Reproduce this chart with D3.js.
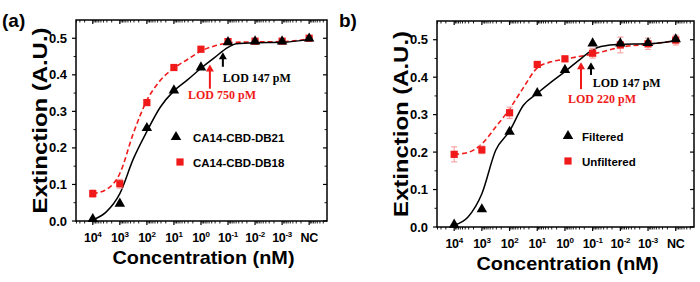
<!DOCTYPE html>
<html>
<head>
<meta charset="utf-8">
<script src="https://cdn.jsdelivr.net/npm/d3@7"></script>
<style>
  html, body { margin: 0; padding: 0; background: #fff; }
  svg { display: block; font-family: "Liberation Sans", Arial, sans-serif; }
</style>
</head>
<body>
<svg id="chart" width="700" height="282"></svg>
<script>
// ── Data ──────────────────────────────────────────────────────────────
const categories = ["4", "3", "2", "1", "0", "-1", "-2", "-3", "NC"];

// panel (a)
const aBlack = [0.004, 0.046, 0.253, 0.356, 0.419, 0.488, 0.490, 0.490, 0.498];
const aRed   = [0.075, 0.102, 0.324, 0.420, 0.470, 0.491, 0.492, 0.492, 0.500];
const aRedErr = [0.010, 0.012, 0.006, 0.005, 0.005, 0.005, 0.005, 0.005, 0.005];
// fitted curves, at half-category steps
const fitX     = [0, 0.5, 1, 1.5, 2, 2.5, 3, 3.5, 4, 4.5, 5, 5.3, 6, 7, 8];
const aBlackFit = [0.003, 0.025, 0.075, 0.170, 0.245, 0.312, 0.356, 0.386, 0.418, 0.447, 0.475, 0.485, 0.488, 0.489, 0.497];
const aRedFit   = [0.075, 0.086, 0.130, 0.240, 0.330, 0.385, 0.418, 0.442, 0.465, 0.479, 0.487, 0.489, 0.490, 0.491, 0.498];

// panel (b)
const bBlack = [0.005, 0.046, 0.253, 0.356, 0.418, 0.489, 0.489, 0.490, 0.500];
const bRed   = [0.194, 0.206, 0.305, 0.434, 0.449, 0.464, 0.486, 0.489, 0.499];
const bRedErr = [0.020, 0.010, 0.015, 0.007, 0.007, 0.013, 0.021, 0.015, 0.013];
const bBlackFit = [0.005, 0.027, 0.089, 0.205, 0.256, 0.325, 0.357, 0.387, 0.415, 0.445, 0.473, 0.482, 0.488, 0.489, 0.498];
const bRedFit   = [0.194, 0.199, 0.222, 0.267, 0.315, 0.372, 0.425, 0.441, 0.448, 0.455, 0.462, 0.467, 0.480, 0.488, 0.497];

const yTicks = [0.0, 0.1, 0.2, 0.3, 0.4, 0.5];

const RED = "#f01a1a", PINK = "#f7a5a5";
const SERIF = "'Liberation Serif', 'Times New Roman', serif";
const svg = d3.select("#chart");

function drawPanel(o) {
  const x = d3.scaleLinear().domain([-0.62, 8.66]).range([o.left, o.right]);
  const y = d3.scaleLinear().domain([0, 0.55]).range([o.bottom, o.top]);
  const g = svg.append("g");

  // minor log ticks between decades
  const minors = [];
  for (let d = -1; d <= 9; d++)
    for (let k = 2; k <= 9; k++) {
      const v = d + (1 - Math.log10(k));
      if (v > -0.62 && v < 8.66) minors.push(v);
    }
  const majors = d3.range(0, 9);
  const yMinor = d3.range(0.05, 0.55, 0.1);

  // bottom (out) and top (in) ticks
  majors.forEach(v => {
    g.append("line").attr("x1", x(v)).attr("x2", x(v)).attr("y1", o.bottom).attr("y2", o.bottom + 4).attr("stroke", "#000").attr("stroke-width", 1.2);
    g.append("line").attr("x1", x(v)).attr("x2", x(v)).attr("y1", o.top).attr("y2", o.top + 4).attr("stroke", "#000").attr("stroke-width", 1.2);
  });
  minors.forEach(v => {
    g.append("line").attr("x1", x(v)).attr("x2", x(v)).attr("y1", o.bottom).attr("y2", o.bottom + 2.5).attr("stroke", "#000").attr("stroke-width", 0.9);
    g.append("line").attr("x1", x(v)).attr("x2", x(v)).attr("y1", o.top).attr("y2", o.top + 2.5).attr("stroke", "#000").attr("stroke-width", 0.9);
  });
  // left (out) and right (in) ticks
  yTicks.forEach(v => {
    g.append("line").attr("x1", o.left - 4).attr("x2", o.left).attr("y1", y(v)).attr("y2", y(v)).attr("stroke", "#000").attr("stroke-width", 1.2);
    g.append("line").attr("x1", o.right - 4).attr("x2", o.right).attr("y1", y(v)).attr("y2", y(v)).attr("stroke", "#000").attr("stroke-width", 1.2);
  });
  yMinor.forEach(v => {
    g.append("line").attr("x1", o.left - 2.5).attr("x2", o.left).attr("y1", y(v)).attr("y2", y(v)).attr("stroke", "#000").attr("stroke-width", 0.9);
    g.append("line").attr("x1", o.right - 2.5).attr("x2", o.right).attr("y1", y(v)).attr("y2", y(v)).attr("stroke", "#000").attr("stroke-width", 0.9);
  });

  g.append("rect").attr("x", o.left).attr("y", o.top)
    .attr("width", o.right - o.left).attr("height", o.bottom - o.top)
    .attr("fill", "none").attr("stroke", "#000").attr("stroke-width", 1.5);

  // y tick labels
  yTicks.forEach(v => {
    g.append("text").attr("x", o.left - 9).attr("y", y(v) + 4.5)
      .attr("text-anchor", "end").attr("font-size", 13).attr("font-weight", "bold")
      .text(d3.format(".1f")(v));
  });
  // x tick labels
  categories.forEach((c, i) => {
    const t = g.append("text").attr("x", x(i)).attr("y", o.bottom + 21)
      .attr("text-anchor", "middle").attr("font-size", 12.5).attr("font-weight", "bold")
      .attr("letter-spacing", -0.3);
    if (c === "NC") { t.text("NC"); return; }
    t.append("tspan").text("10");
    t.append("tspan").attr("font-size", 8).attr("dy", -5).text(c);
  });

  // axis titles
  g.append("text").attr("x", (o.left + o.right) / 2 + 2).attr("y", o.bottom + 43)
    .attr("text-anchor", "middle").attr("font-size", 19).attr("font-weight", "bold")
    .attr("textLength", 182).attr("lengthAdjust", "spacingAndGlyphs")
    .text("Concentration (nM)");
  g.append("text")
    .attr("transform", `translate(${o.left - 29},${(o.top + o.bottom) / 2}) rotate(-90)`)
    .attr("text-anchor", "middle").attr("font-size", 21).attr("font-weight", "bold")
    .attr("textLength", 186).attr("lengthAdjust", "spacingAndGlyphs")
    .text("Extinction (A.U.)");

  // fitted curves
  const line = d3.line().x((d, i) => x(fitX[i])).y(d => y(d)).curve(d3.curveMonotoneX);
  g.append("path").attr("d", line(o.redFit)).attr("fill", "none")
    .attr("stroke", RED).attr("stroke-width", 1.6).attr("stroke-dasharray", "5,3");
  g.append("path").attr("d", line(o.blackFit)).attr("fill", "none")
    .attr("stroke", "#000").attr("stroke-width", 1.5);

  // error bars (red series)
  o.red.forEach((v, i) => {
    const e = o.redErr[i], cx = x(i);
    g.append("line").attr("x1", cx).attr("x2", cx).attr("y1", y(v - e)).attr("y2", y(v + e)).attr("stroke", PINK).attr("stroke-width", 1.2);
    [v - e, v + e].forEach(w => g.append("line").attr("x1", cx - 3).attr("x2", cx + 3).attr("y1", y(w)).attr("y2", y(w)).attr("stroke", PINK).attr("stroke-width", 1.2));
  });

  // markers
  const sq = d3.symbol().type(d3.symbolSquare).size(52);
  const tri = d3.symbol().type(d3.symbolTriangle).size(48);
  g.selectAll(null).data(o.red).enter().append("path")
    .attr("d", sq).attr("fill", RED)
    .attr("transform", (d, i) => `translate(${x(i)},${y(d)})`);
  g.selectAll(null).data(o.black).enter().append("path")
    .attr("d", tri).attr("fill", "#000")
    .attr("transform", (d, i) => `translate(${x(i)},${y(d) - 0.5})`);

  // LOD arrows
  o.arrows.forEach(a => {
    const ax = x(a.x), y0 = y(a.from), y1 = y(a.to);
    g.append("line").attr("x1", ax).attr("x2", ax).attr("y1", y0).attr("y2", y1 + 5)
      .attr("stroke", a.color).attr("stroke-width", 2);
    g.append("path").attr("d", `M${ax},${y1} L${ax - 4},${y1 + 7} L${ax + 4},${y1 + 7} Z`).attr("fill", a.color);
  });
  o.lods.forEach(l => {
    g.append("text").attr("x", x(l.x)).attr("y", y(l.y))
      .style("font-family", SERIF)
      .attr("font-size", 12).attr("font-weight", "bold").attr("fill", l.color)
      .text(l.text);
  });

  // legend
  g.append("path").attr("d", tri).attr("fill", "#000").attr("transform", `translate(${o.legX},${o.legY})`);
  g.append("path").attr("d", sq).attr("fill", RED).attr("transform", `translate(${o.legX + o.sqOff},${o.legY + 25})`);
  g.append("text").attr("x", o.legX + o.textOff).attr("y", o.legY + 4.5)
    .attr("font-size", 11.5).attr("font-weight", "bold").text(o.names[0]);
  g.append("text").attr("x", o.legX + o.textOff).attr("y", o.legY + 29.5)
    .attr("font-size", 11.5).attr("font-weight", "bold").text(o.names[1]);

  // panel label
  g.append("text").attr("x", o.labX).attr("y", 27)
    .attr("font-size", 19).attr("font-weight", "bold").text(o.label);
}

drawPanel({
  left: 76, right: 327, top: 20, bottom: 221,
  black: aBlack, red: aRed, redErr: aRedErr, blackFit: aBlackFit, redFit: aRedFit,
  arrows: [
    { x: 4.81, from: 0.422, to: 0.462, color: "#000" },
    { x: 4.33, from: 0.362, to: 0.428, color: RED }
  ],
  lods: [
    { x: 4.81, y: 0.38, text: "LOD 147 pM", color: "#000" },
    { x: 3.52, y: 0.334, text: "LOD 750 pM", color: RED }
  ],
  legX: 176, legY: 137, sqOff: 4, textOff: 17,
  names: ["CA14-CBD-DB21", "CA14-CBD-DB18"],
  label: "(a)", labX: 2
});

drawPanel({
  left: 437, right: 694, top: 21, bottom: 227,
  black: bBlack, red: bRed, redErr: bRedErr, blackFit: bBlackFit, redFit: bRedFit,
  arrows: [
    { x: 4.58, from: 0.368, to: 0.44, color: RED },
    { x: 4.94, from: 0.406, to: 0.44, color: "#000" }
  ],
  lods: [
    { x: 5.0, y: 0.374, text: "LOD 147 pM", color: "#000" },
    { x: 4.11, y: 0.331, text: "LOD 220 pM", color: RED }
  ],
  legX: 568, legY: 136, sqOff: 0, textOff: 14,
  names: ["Filtered", "Unfiltered"],
  label: "b)", labX: 339
});
</script>
</body>
</html>
